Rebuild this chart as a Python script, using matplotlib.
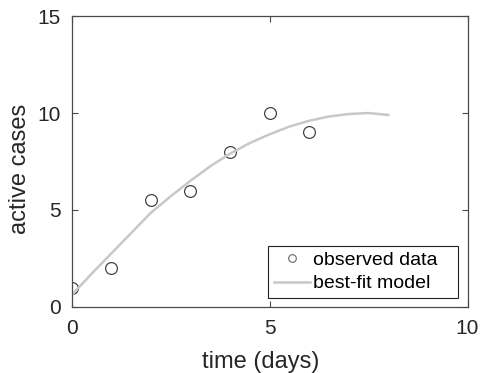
import matplotlib
matplotlib.use("Agg")
import matplotlib.pyplot as plt
import numpy as np

plt.rcParams['font.family'] = ['Liberation Sans', 'DejaVu Sans']

# observed data
days = [0, 1, 2, 3, 4, 5, 6]
cases = [1, 2, 5.5, 6, 8, 10, 9]

# best-fit model, every half day
model_t = [0, 0.5, 1, 1.5, 2, 2.5, 3, 3.5, 4, 4.5, 5, 5.5, 6, 6.5, 7, 7.5, 8]
model_y = [0.6, 1.7, 2.75, 3.8, 4.85, 5.7, 6.5, 7.25, 7.9, 8.45, 8.9, 9.3,
           9.6, 9.82, 9.95, 10.0, 9.9]

x_ticks = [0, 5, 10]
y_ticks = [0, 5, 10, 15]

axis_col = '#4a4a4a'
text_col = '#262626'

fig = plt.figure(figsize=(4.8, 3.73), dpi=100)
ax = fig.add_axes([0.149, 0.177, 0.825, 0.780])

ax.plot(days, cases, 'o', mfc='none', mec='#444444', ms=8.5, mew=0.9,
        label='observed data')
ax.plot(model_t, model_y, '-', color='#c8c8c8', lw=1.8, label='best-fit model')

ax.set_xlim(0, 10)
ax.set_ylim(0, 15)
ax.set_xticks(x_ticks)
ax.set_yticks(y_ticks)
ax.tick_params(direction='in', length=4, width=0.8, colors=axis_col,
               labelcolor=text_col, labelsize=15, top=True, right=True, pad=8)
ax.tick_params(axis='x', pad=9)
for s in ax.spines.values():
    s.set_color(axis_col)
    s.set_linewidth(0.9)

ax.set_xlabel('time (days)', fontsize=17, color=text_col)
ax.set_ylabel('active cases', fontsize=17, color=text_col)
ax.xaxis.set_label_coords(0.478, -0.151)
ax.yaxis.set_label_coords(-0.102, 0.474)

# matlab style legend box with extra room on the right
leg = ax.legend(loc='lower left', bbox_to_anchor=(0.497, 0.030, 0.478, 0.186),
                mode='expand', fontsize=14, frameon=True, fancybox=False,
                edgecolor='#222222', framealpha=1, borderpad=0.3,
                handlelength=1.85, handletextpad=0.15, labelspacing=0.3,
                borderaxespad=0, markerscale=0.65)
leg.get_frame().set_linewidth(0.8)
leg.legend_handles[0].set_markeredgecolor('#777777')

fig.savefig('out.png', dpi=100)
